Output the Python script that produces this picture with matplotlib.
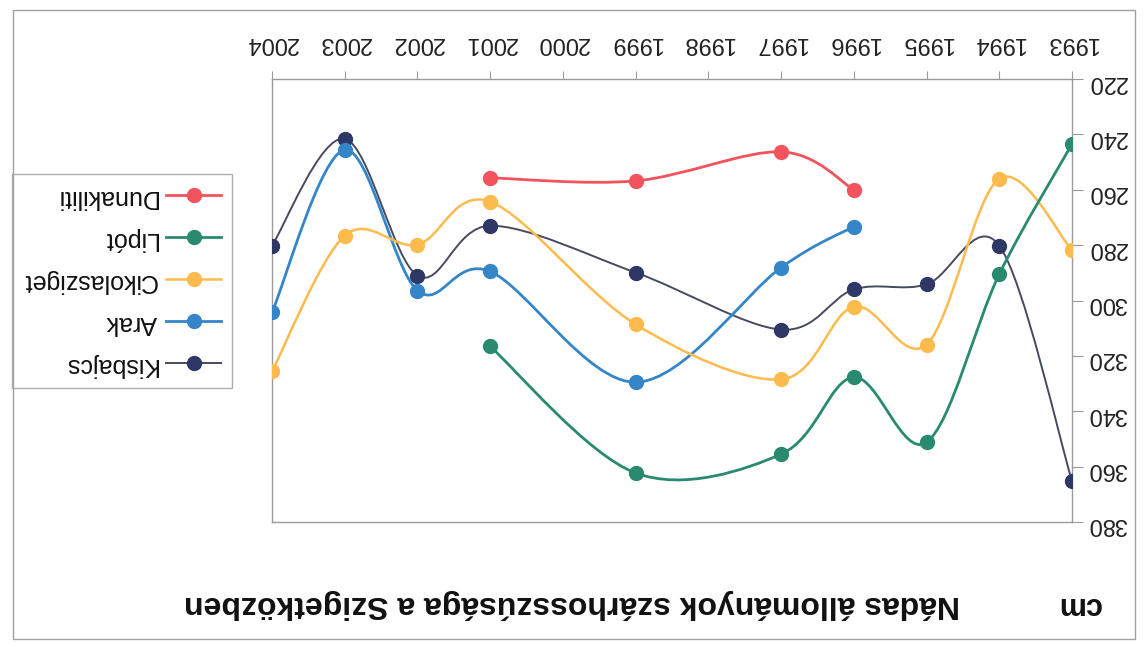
import matplotlib.pyplot as plt
import numpy as np
from matplotlib.path import Path
from matplotlib.patches import PathPatch, Rectangle
from matplotlib.lines import Line2D

plt.rcParams['font.family'] = ['Liberation Sans', 'DejaVu Sans']

# szárhossz (cm) évenként, mintaterületenként
years_dunakiliti = [1996, 1997, 1999, 2001]
dunakiliti = [260.0, 246.3, 256.8, 255.7]
years_lipot = [1993, 1994, 1995, 1996, 1997, 1999, 2001]
lipot = [243.5, 290.5, 351.2, 327.7, 355.5, 362.3, 316.6]
years_cikola = [1993, 1994, 1995, 1996, 1997, 1999, 2001, 2002, 2003, 2004]
cikola = [281.8, 256.0, 315.9, 302.2, 328.5, 308.6, 264.3, 279.8, 276.6, 325.6]
years_arak = [1996, 1997, 1999, 2001, 2002, 2003, 2004]
arak = [273.3, 288.1, 329.5, 289.5, 296.4, 245.6, 304.3]
years_kisbajcs = [1993, 1994, 1995, 1996, 1997, 1999, 2001, 2002, 2003, 2004]
kisbajcs = [365.2, 280.2, 294.2, 296.0, 310.5, 289.9, 273.0, 291.0, 241.6, 280.2]

year_ticks = list(range(1993, 2005))
cm_ticks = list(range(220, 381, 20))

title = "Nádas állományok szárhosszúsága a Szigetközben"

series = [
    ("Kisbajcs", years_kisbajcs, kisbajcs, "#2e3766", "#474a5e", 1.4),
    ("Arak", years_arak, arak, "#3586c9", "#3586c9", 2.0),
    ("Cikolasziget", years_cikola, cikola, "#fdbb4d", "#fdbb4d", 1.8),
    ("Lipót", years_lipot, lipot, "#2a8a70", "#2a8a70", 2.0),
    ("Dunakiliti", years_dunakiliti, dunakiliti, "#f2535c", "#f2535c", 2.0),
]


def smooth_path(xs, ys):
    """Bezier path through the points (Catmull-Rom style, like Excel's smoothed line)."""
    pts = np.column_stack([xs, ys]).astype(float)
    n = len(pts)
    verts = [pts[0]]
    codes = [Path.MOVETO]
    for i in range(n - 1):
        p0 = pts[max(i - 1, 0)]
        p1 = pts[i]
        p2 = pts[i + 1]
        p3 = pts[min(i + 2, n - 1)]
        verts += [p1 + (p2 - p0) / 6, p2 - (p3 - p1) / 6, p2]
        codes += [Path.CURVE4] * 3
    return Path(verts, codes)


W, H = 1143, 645
fig = plt.figure(figsize=(W / 100, H / 100), dpi=100)
fig.patch.set_facecolor("white")

# the sheet is turned upside down: both axes are reversed, text is rotated 180
ax = fig.add_axes([272 / W, 1 - 522 / H, 800 / W, 443 / H])
ax.set_xlim(2004, 1993)
ax.set_ylim(380, 220)

handles = []
for name, xs, ys, mcolor, lcolor, lw in series:
    ax.add_patch(PathPatch(smooth_path(xs, ys), fill=False, edgecolor=lcolor,
                           lw=lw, zorder=2, capstyle="round"))
    ax.plot(xs, ys, linestyle="none", marker="o", ms=10, mfc=mcolor,
            mec=mcolor, zorder=3)
    handles.append(Line2D([], [], color=lcolor, lw=lw, marker="o", ms=10,
                          mfc=mcolor, mec=mcolor))

ax.set_xticks(year_ticks)
ax.set_yticks(cm_ticks)
ax.tick_params(axis="x", top=True, bottom=False, labeltop=True,
               labelbottom=False, labelrotation=180, direction="out",
               length=6, pad=12, labelsize=17, colors="#9a9a9a",
               labelcolor="#222222")
ax.tick_params(axis="y", right=True, left=False, labelright=True,
               labelleft=False, labelrotation=180, direction="out",
               length=8, pad=3, labelsize=17, colors="#9a9a9a",
               labelcolor="#222222")
for sp in ax.spines.values():
    sp.set_color("#9a9a9a")
    sp.set_linewidth(1.0)

leg = ax.legend(handles[::-1], [s[0] for s in series][::-1],
                loc="center", bbox_to_anchor=(122 / W, 1 - 281 / H),
                bbox_transform=fig.transFigure, markerfirst=False,
                frameon=True, fancybox=False, fontsize=18,
                labelspacing=0.72, handlelength=2.2, handletextpad=0.35,
                borderpad=0.45, borderaxespad=0)
leg.get_frame().set_edgecolor("#9a9a9a")
leg.get_frame().set_linewidth(1.0)
for t in leg.get_texts():
    t.set_rotation(180)
    t.set_color("#111111")

fig.text(572 / W, 1 - 604 / H, title, rotation=180, ha="center",
         va="center", fontsize=23, weight="bold", color="#111111")
fig.text(1079 / W, 1 - 605 / H, "cm", rotation=180, ha="center",
         va="center", fontsize=22, weight="bold", color="#111111")

fig.add_artist(Rectangle((13 / W, 1 - 639 / H), 1122 / W, 629 / H,
                         transform=fig.transFigure, fill=False,
                         edgecolor="#a0a0a0", lw=1.0))

fig.savefig("out.png", dpi=100)
